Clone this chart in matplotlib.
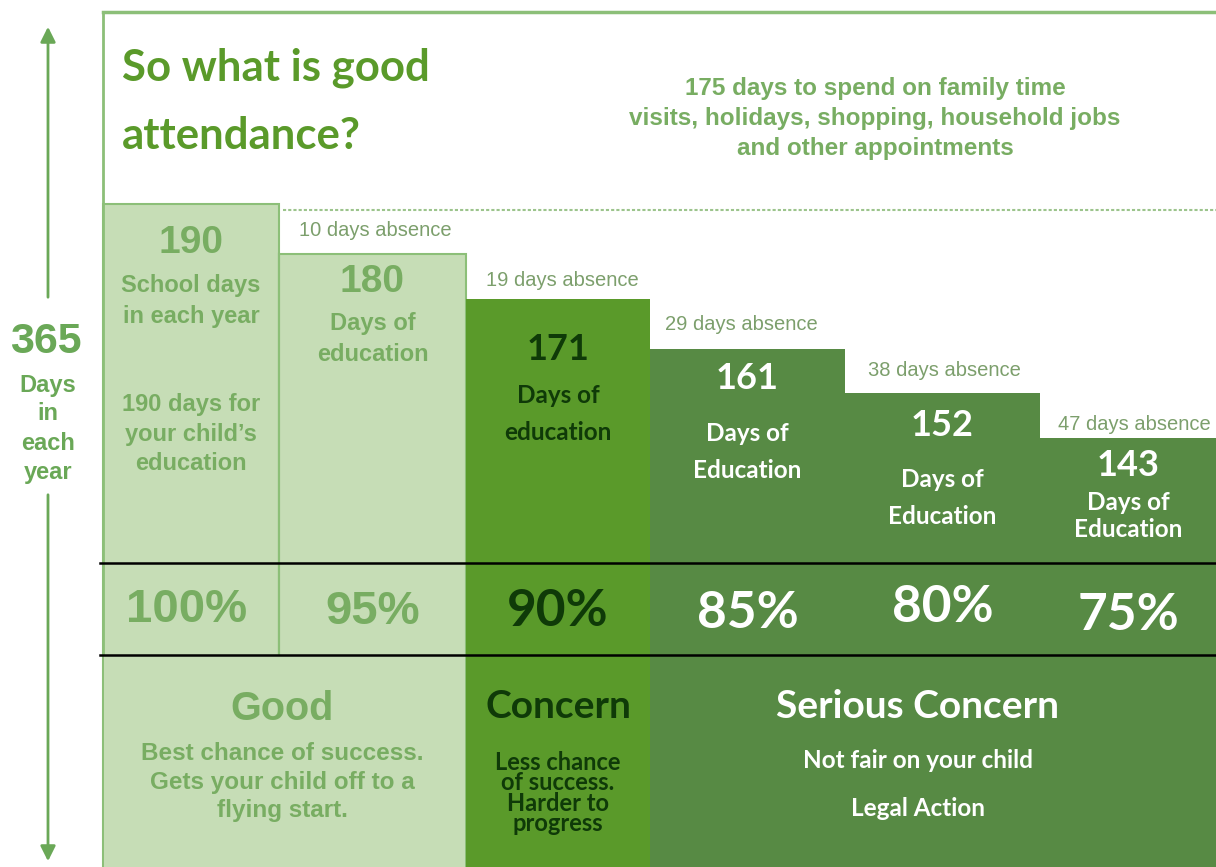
import matplotlib
matplotlib.use("Agg")
import matplotlib.pyplot as plt

# data
levels = ["100%", "95%", "90%", "85%", "80%", "75%"]
days_of_education = [190, 180, 171, 161, 152, 143]
days_absence = [0, 10, 19, 29, 38, 47]
edu_labels = ["School days\nin each year", "Days of\neducation", "Days of\neducation",
              "Days of\nEducation", "Days of\nEducation", "Days of\nEducation"]

# layout (pixels of a 1216x867 picture)
W, H = 1216, 867
col_edges = [103, 279, 466, 650, 845, 1040, 1240]
LIGHT = "#c6ddb6"
BRIGHT = "#5a9a2a"
DARK = "#578a44"
LINE = "#8cbf78"
TXT_LIGHT = "#78ad62"
TXT_ABS = "#7c9f6c"
TXT_DARK = "#0f3a08"
ARIAL = "Liberation Sans"
CALIBRI = "Lato"

fig = plt.figure(figsize=(W / 100, H / 100), dpi=100)
ax = fig.add_axes([0, 0, 1, 1])
ax.set_xlim(0, W)
# day scale: 4.978 px per day, 166.17 days at pixel row 322.8
k = 4.978
ax.set_ylim(166.17 - (H - 322.83) / k, 166.17 + 322.83 / k)
ax.axis("off")


def P(x, y):
    return x / W, 1 - y / H


def ftext(x, y, s, size, color, family=ARIAL, weight="bold", **kw):
    fig.text(*P(x, y), s, fontsize=size, color=color, family=family, weight=weight,
             ha=kw.pop("ha", "center"), va=kw.pop("va", "center"), **kw)


colors = [LIGHT, LIGHT, BRIGHT, DARK, DARK, DARK]
lefts = col_edges[:-1]
widths = [b - a for a, b in zip(col_edges[:-1], col_edges[1:])]
for i in range(len(days_of_education)):
    light = colors[i] == LIGHT
    ax.bar(lefts[i], days_of_education[i], width=widths[i], align="edge", bottom=0,
           color=colors[i], edgecolor=LINE if light else colors[i],
           linewidth=1.5 if light else 0, zorder=2 if light else 3)

# outer frame and dotted line
top_day = 166.17 + (322.83 - 12) / k
ax.plot([103, 103], [ax.get_ylim()[0], top_day], color=LINE, lw=2, zorder=4)
ax.plot([103, W], [top_day] * 2, color=LINE, lw=2.5, zorder=4)
ax.plot([283, W], [days_of_education[0] - 1.2] * 2, color="#9cc48c", lw=1.5, ls=(0, (1.5, 1)), zorder=1)

# table rows
for yy in (563, 655):
    fig.add_artist(plt.Line2D([100 / W, 1], [1 - yy / H] * 2, color="black", lw=1.8, zorder=10))
# light divider stops at row line
ax.plot([279, 279], [166.17 - (655 - 322.83) / k, 180], color=LINE, lw=1.5, zorder=4)
# cover the divider in the bottom section of Good
ax.fill_between([104, 465], ax.get_ylim()[0], 166.17 - (656 - 322.83) / k, color=LIGHT, zorder=5, lw=0)

# left arrow 365
ax_col = "#6aa857"
fig.add_artist(matplotlib.patches.FancyArrowPatch(P(48, 300), P(48, 24), arrowstyle="-|>,head_length=6,head_width=3",
                                                  color=ax_col, lw=2, mutation_scale=1.5))
fig.add_artist(matplotlib.patches.FancyArrowPatch(P(48, 492), P(48, 864), arrowstyle="-|>,head_length=6,head_width=3",
                                                  color=ax_col, lw=2, mutation_scale=1.5))
ftext(46, 342, "365", 31, ax_col)
for s, yy in zip(["Days", "in", "each", "year"], [385, 414, 444, 473]):
    ftext(48, yy, s, 17, ax_col)

# title + family time
ftext(122, 68, "So what is good", 31.5, BRIGHT, family=CALIBRI, ha="left")
ftext(122, 136, "attendance?", 31.5, BRIGHT, family=CALIBRI, ha="left")
for s, yy in zip(["175 days to spend on family time", "visits, holidays, shopping, household jobs",
                  "and other appointments"], [88, 118, 148]):
    ftext(875, yy, s, 17.5, TXT_LIGHT)

# column texts
centers = [(a + b) / 2 for a, b in zip(col_edges[:-1], [279, 466, 650, 845, 1040, 1216])]
ftext(centers[0], 243, str(days_of_education[0]), 28, TXT_LIGHT)
ftext(centers[0], 301, edu_labels[0], 17, TXT_LIGHT, linespacing=1.4)
ftext(centers[0], 434, "190 days for\nyour child\u2019s\neducation", 17, TXT_LIGHT, linespacing=1.35)
ftext(centers[1], 282, str(days_of_education[1]), 28, TXT_LIGHT)
ftext(centers[1], 339, edu_labels[1], 17, TXT_LIGHT, linespacing=1.4)

abs_y = [None, 231, 281, 325, 371, 424]
abs_x = [None, 375, 562, 741, 944, 1134]
for i in range(1, 6):
    ftext(abs_x[i], abs_y[i], f"{days_absence[i]} days absence", 14.5, TXT_ABS, weight="normal")

num_y = [None, None, 350, 379, 426, 466]
lab_y = [None, None, 414, 452, 498, 516]
lab_sp = [None, None, 1.75, 1.75, 1.75, 1.25]
for i in range(2, 6):
    c = TXT_DARK if i == 2 else "white"
    ftext(centers[i], num_y[i], str(days_of_education[i]), 26, c, family=CALIBRI)
    ftext(centers[i], lab_y[i], edu_labels[i], 17.5, c, family=CALIBRI, linespacing=lab_sp[i])

# percent row
pct_y = [610, 612, 612, 614, 607, 616]
for i, s in enumerate(levels):
    if i < 2:
        ftext(centers[i] if i else 187, pct_y[i], s, 34, TXT_LIGHT)
    else:
        ftext(centers[i], pct_y[i], s, 37, TXT_DARK if i == 2 else "white", family=CALIBRI)

# categories
ftext(282, 709, "Good", 28.5, TXT_LIGHT)
ftext(282, 782, "Best chance of success.\nGets your child off to a\nflying start.", 17.5, TXT_LIGHT, linespacing=1.32)
ftext(558, 707, "Concern", 28, TXT_DARK, family=CALIBRI)
ftext(558, 793, "Less chance\nof success.\nHarder to\nprogress", 17, TXT_DARK, family=CALIBRI, linespacing=0.85)
ftext(918, 706, "Serious Concern", 28, "white", family=CALIBRI)
ftext(918, 761, "Not fair on your child", 17.5, "white", family=CALIBRI)
ftext(918, 808, "Legal Action", 17.5, "white", family=CALIBRI)

fig.savefig("out.png", dpi=100, facecolor="white")
